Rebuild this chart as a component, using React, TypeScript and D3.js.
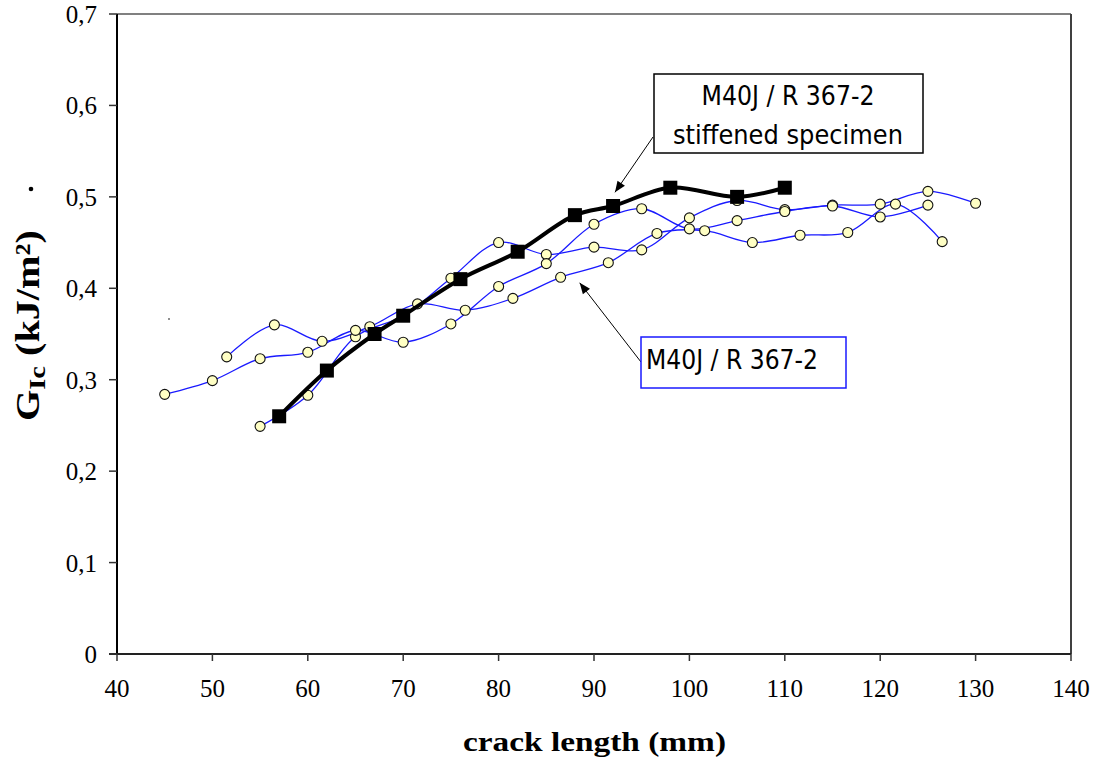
import React from "react";
import * as d3 from "d3";

const W = 1097;
const H = 758;

const xTicks = [40, 50, 60, 70, 80, 90, 100, 110, 120, 130, 140];
const yTicks = [0, 0.1, 0.2, 0.3, 0.4, 0.5, 0.6, 0.7];
const yTickLabels = ["0", "0,1", "0,2", "0,3", "0,4", "0,5", "0,6", "0,7"];

// stiffened specimen (black squares)
const stiffX = [57, 62, 67, 70, 76, 82, 88, 92, 98, 105, 110];
const stiffY = [0.26, 0.31, 0.35, 0.37, 0.41, 0.44, 0.48, 0.49, 0.51, 0.5, 0.51];

// M40J / R 367-2 specimens (blue lines, yellow circles)
const specAX = [55, 60, 65, 70, 75, 80, 85, 90, 95, 100, 105, 110, 115, 120, 125, 130];
const specAY = [0.249, 0.283, 0.347, 0.37, 0.411, 0.45, 0.437, 0.445, 0.442, 0.477, 0.496, 0.486, 0.491, 0.492, 0.506, 0.493];
const specBX = [45, 50, 55, 60, 65, 70, 75, 80, 85, 90, 95, 100, 105, 110, 115, 120, 125];
const specBY = [0.284, 0.299, 0.323, 0.33, 0.354, 0.341, 0.361, 0.402, 0.427, 0.47, 0.487, 0.465, 0.474, 0.484, 0.49, 0.478, 0.491];
const specCX = [51.5, 56.5, 61.5, 66.5, 71.5, 76.5, 81.5, 86.5, 91.5, 96.6, 101.6, 106.6, 111.6, 116.6, 121.6, 126.5];
const specCY = [0.325, 0.36, 0.342, 0.358, 0.383, 0.376, 0.389, 0.412, 0.428, 0.46, 0.463, 0.45, 0.458, 0.461, 0.492, 0.451];

const blueSeries = [
  { xs: specAX, ys: specAY },
  { xs: specBX, ys: specBY },
  { xs: specCX, ys: specCY },
];

// annotation arrow tips (data coordinates)
const tipStiff = [92.2, 0.505];
const tipSpec = [88.5, 0.406];

const left = 117;
const right = 1071;
const top = 14;
const bottom = 654;

export default function App() {
  const x = d3.scaleLinear().domain([40, 140]).range([left, right]);
  const y = d3.scaleLinear().domain([0, 0.7]).range([bottom, top]);

  const line = d3
    .line<[number, number]>()
    .x((d) => x(d[0]))
    .y((d) => y(d[1]))
    .curve(d3.curveCatmullRom.alpha(0.5));

  const zip = (xs: number[], ys: number[]) =>
    xs.map((v, i) => [v, ys[i]] as [number, number]);

  const arrowHead = (x1: number, y1: number, x2: number, y2: number) => {
    const ang = Math.atan2(y2 - y1, x2 - x1);
    const len = 11;
    const wid = 4.5;
    const bx = x2 - len * Math.cos(ang);
    const by = y2 - len * Math.sin(ang);
    const px = -Math.sin(ang) * wid;
    const py = Math.cos(ang) * wid;
    return `M${x2},${y2}L${bx + px},${by + py}L${bx - px},${by - py}Z`;
  };

  const a1 = { x1: 653, y1: 137, x2: x(tipStiff[0]), y2: y(tipStiff[1]) };
  const a2 = { x1: 641, y1: 362, x2: x(tipSpec[0]), y2: y(tipSpec[1]) };

  const serif = "'Liberation Serif', 'Times New Roman', serif";
  const sans = "'DejaVu Sans', Verdana, sans-serif";

  return (
    <svg
      width={W}
      height={H}
      style={{ position: "absolute", left: 0, top: 0, background: "#fff" }}
    >
      <rect x={0} y={0} width={W} height={H} fill="#fff" />
      {/* plot border */}
      <line x1={left} y1={top} x2={right} y2={top} stroke="#808080" strokeWidth={2} />
      <line x1={right} y1={top} x2={right} y2={bottom} stroke="#404040" strokeWidth={2} />

      {/* blue series lines */}
      {blueSeries.map((s, i) => (
        <path key={"l" + i} d={line(zip(s.xs, s.ys)) || ""} fill="none" stroke="#1a1aff" strokeWidth={1.3} />
      ))}
      {blueSeries.map((s, i) =>
        s.xs.map((v, j) => (
          <circle
            key={"c" + i + "-" + j}
            cx={x(v)}
            cy={y(s.ys[j])}
            r={5}
            fill="#ffffc4"
            stroke="#111"
            strokeWidth={1.1}
          />
        ))
      )}

      {/* stiffened specimen */}
      <path d={line(zip(stiffX, stiffY)) || ""} fill="none" stroke="#000" strokeWidth={4} />
      {stiffX.map((v, i) => (
        <rect key={"s" + i} x={x(v) - 7} y={y(stiffY[i]) - 7} width={14} height={14} fill="#000" />
      ))}

      {/* axes */}
      <line x1={left} y1={top} x2={left} y2={bottom} stroke="#000" strokeWidth={2} />
      <line x1={left - 8} y1={bottom} x2={right} y2={bottom} stroke="#222" strokeWidth={2} />
      {yTicks.map((t, i) => (
        <g key={"yt" + i}>
          <line x1={left - 8} x2={left} y1={y(t)} y2={y(t)} stroke="#333" strokeWidth={1.5} />
          <text x={left - 20} y={y(t) + 9} textAnchor="end" fontFamily={serif} fontSize={25} fill="#000">
            {yTickLabels[i]}
          </text>
        </g>
      ))}
      {xTicks.map((t, i) => (
        <g key={"xt" + i}>
          <line x1={x(t)} x2={x(t)} y1={bottom} y2={bottom + 7} stroke="#333" strokeWidth={1.5} />
          <text x={x(t)} y={bottom + 43} textAnchor="middle" fontFamily={serif} fontSize={25} fill="#000">
            {t}
          </text>
        </g>
      ))}

      {/* axis titles */}
      <text
        x={463}
        y={751}
        textAnchor="start"
        fontFamily={serif}
        fontWeight="bold"
        fontSize={28}
        textLength={263}
        lengthAdjust="spacingAndGlyphs"
        fill="#000"
      >
        crack length (mm)
      </text>
      <text
        transform="translate(39,421) rotate(-90)"
        textAnchor="start"
        fontFamily={serif}
        fontWeight="bold"
        fontSize={34}
        fill="#000"
        textLength={191}
        lengthAdjust="spacingAndGlyphs"
      >
        G
        <tspan fontSize={24} dy={6}>Ic</tspan>
        <tspan dy={-6}> (kJ/m²)</tspan>
      </text>
      <circle cx={31} cy={189} r={2.3} fill="#000" />
      <circle cx={169} cy={319} r={0.8} fill="#000" />

      {/* annotations */}
      <line x1={a1.x1} y1={a1.y1} x2={a1.x2} y2={a1.y2} stroke="#000" strokeWidth={1} />
      <path d={arrowHead(a1.x1, a1.y1, a1.x2, a1.y2)} fill="#000" />
      <rect x={654} y={74} width={269} height={79} fill="#fff" stroke="#000" strokeWidth={1.5} />
      <text x={788} y={105} textAnchor="middle" fontFamily={sans} fontSize={27} textLength={173} lengthAdjust="spacingAndGlyphs" fill="#000">
        M40J / R 367-2
      </text>
      <text x={788} y={144} textAnchor="middle" fontFamily={sans} fontSize={27} textLength={230} lengthAdjust="spacingAndGlyphs" fill="#000">
        stiffened specimen
      </text>

      <line x1={a2.x1} y1={a2.y1} x2={a2.x2} y2={a2.y2} stroke="#000" strokeWidth={1} />
      <path d={arrowHead(a2.x1, a2.y1, a2.x2, a2.y2)} fill="#000" />
      <rect x={641} y={337} width={205} height={51} fill="#fff" stroke="#1a1aff" strokeWidth={1.5} />
      <text x={646} y={369} textAnchor="start" fontFamily={sans} fontSize={27} textLength={172} lengthAdjust="spacingAndGlyphs" fill="#000">
        M40J / R 367-2
      </text>
    </svg>
  );
}
